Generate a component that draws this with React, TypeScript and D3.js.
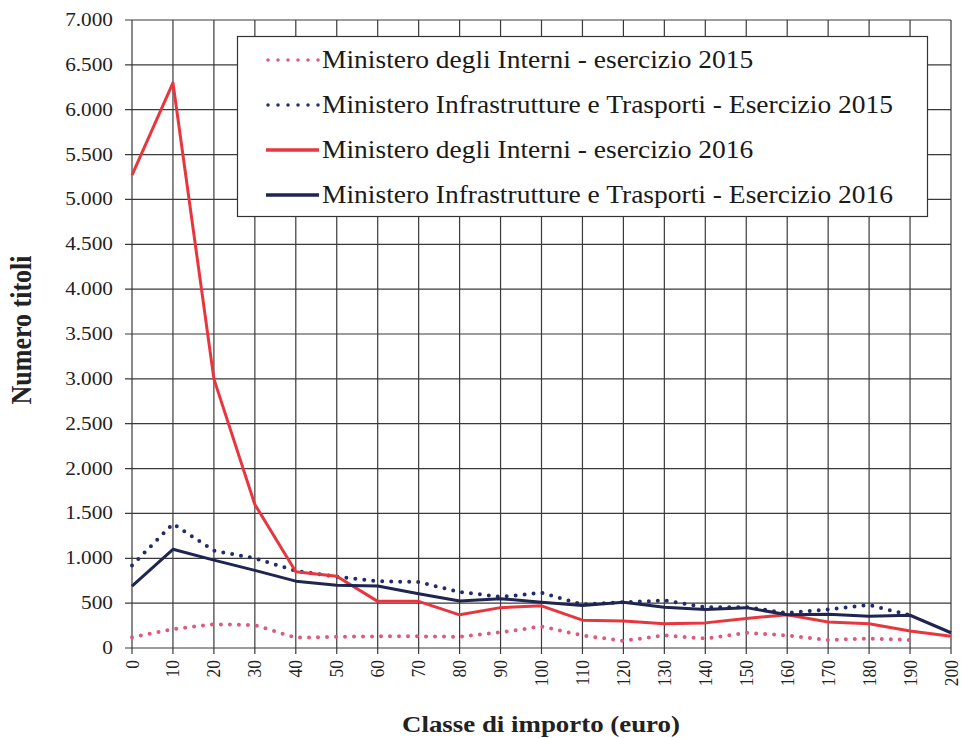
import * as d3 from "d3";

const classi = [0, 10, 20, 30, 40, 50, 60, 70, 80, 90, 100, 110, 120, 130, 140, 150, 160, 170, 180, 190, 200];

// esercizio 2015 stops at 190
const interni2015 = [120, 210, 265, 255, 115, 125, 130, 130, 125, 175, 240, 140, 80, 140, 105, 170, 140, 90, 105, 90];
const mit2015 = [920, 1385, 1085, 1000, 860, 795, 745, 735, 625, 570, 615, 485, 510, 530, 455, 455, 390, 430, 480, 365];
const interni2016 = [5270, 6300, 3000, 1600, 850, 800, 520, 520, 370, 450, 470, 310, 300, 270, 280, 330, 370, 290, 270, 190, 130];
const mit2016 = [690, 1100, 980, 865, 745, 700, 690, 605, 525, 550, 510, 475, 510, 455, 430, 450, 370, 375, 355, 365, 170];

const yTicks = [0, 500, 1000, 1500, 2000, 2500, 3000, 3500, 4000, 4500, 5000, 5500, 6000, 6500, 7000];

const series = [
  { label: "Ministero degli Interni - esercizio 2015", values: interni2015, color: "#e0587c", dotted: true },
  { label: "Ministero Infrastrutture e Trasporti - Esercizio 2015", values: mit2015, color: "#232c6a", dotted: true },
  { label: "Ministero degli Interni - esercizio 2016", values: interni2016, color: "#e8363f", dotted: false },
  { label: "Ministero Infrastrutture e Trasporti - Esercizio 2016", values: mit2016, color: "#1e2550", dotted: false },
];

const width = 961;
const height = 738;
const m = { left: 132, right: 951, top: 20, bottom: 648 };
const serif = { fontFamily: "'Times New Roman', Tinos, 'Liberation Serif', serif" };
const sx = 1.12; // the scan is a bit stretched sideways

export default function App() {
  const x = d3.scaleLinear().domain([0, 200]).range([m.left, m.right]);
  const y = d3.scaleLinear().domain([0, 7000]).range([m.bottom, m.top]);
  const fmt = (v: number) => d3.format(",")(v).replace(/,/g, ".");
  const line = d3.line<number>()
    .x((_, i) => x(classi[i]))
    .y((d) => y(d));

  return (
    <svg width={width} height={height} style={{ display: "block", position: "absolute", left: 0, top: 0 }}>
      <rect width={width} height={height} fill="#fff" />

      <g stroke="#3a3a3a" strokeWidth={1.2}>
        {yTicks.map((d) => (
          <line key={"h" + d} x1={m.left - 7} x2={m.right} y1={y(d)} y2={y(d)} />
        ))}
        {classi.map((d) => (
          <line key={"v" + d} x1={x(d)} x2={x(d)} y1={m.top} y2={m.bottom + 6} />
        ))}
      </g>

      {yTicks.map((d) => (
        <text key={"yt" + d} style={serif} fontSize={19} fill="#222" textAnchor="end"
          transform={`translate(113,${y(d) + 6}) scale(${sx},1)`}>{fmt(d)}</text>
      ))}

      {classi.map((d) => (
        <text key={"xt" + d} style={serif} fontSize={17.5} fill="#222" textAnchor="end"
          transform={`translate(${x(d) + 6.5},${m.bottom + 12}) scale(${sx},1) rotate(-90)`}>{d}</text>
      ))}

      <text style={serif} transform={`translate(31,330) scale(${sx},1) rotate(-90)`} textAnchor="middle"
        fontSize={26} fontWeight="bold" fill="#222">Numero titoli</text>
      <text style={serif} transform={`translate(541,732) scale(${sx},1)`} textAnchor="middle"
        fontSize={24} fontWeight="bold" fill="#222">Classe di importo (euro)</text>

      {series.map((s) => (
        <path key={s.label} d={line(s.values) ?? ""} fill="none" stroke={s.color} strokeLinejoin="round"
          strokeWidth={s.dotted ? 4 : 3}
          strokeLinecap={s.dotted ? "round" : "butt"}
          strokeDasharray={s.dotted ? "0 9" : undefined} />
      ))}

      <rect x={237.5} y={36.5} width={690} height={180} fill="#fff" stroke="#333" strokeWidth={1.2} />
      {series.map((s, i) => {
        const yy = 60 + i * 45;
        return (
          <g key={s.label}>
            <line x1={s.dotted ? 268 : 266} x2={319} y1={yy} y2={yy} stroke={s.color}
              strokeWidth={3.5}
              strokeLinecap={s.dotted ? "round" : "butt"}
              strokeDasharray={s.dotted ? "0 10" : undefined} />
            <text style={serif} transform={`translate(322,${yy + 7.5}) scale(1.1,1)`}
              fontSize={25} fill="#1a1a1a">{s.label}</text>
          </g>
        );
      })}
    </svg>
  );
}
